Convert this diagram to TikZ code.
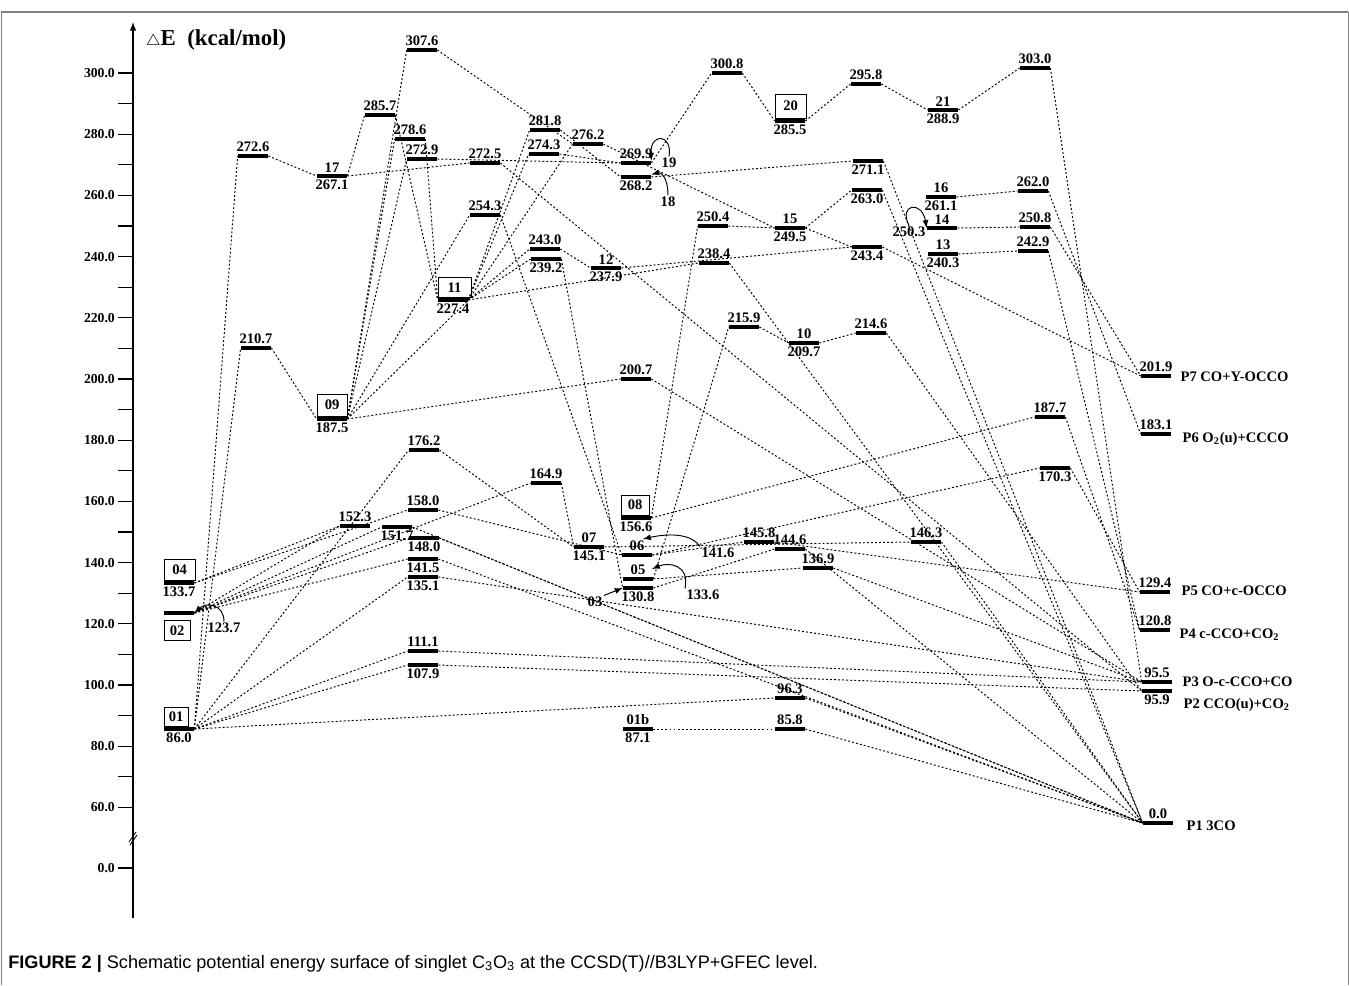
\documentclass[tikz,border=0pt]{standalone}
\usepackage{fontspec}
\setmainfont{Liberation Serif}
\setsansfont{Liberation Sans}
\usetikzlibrary{arrows,positioning}
\tikzset{
  lvl/.style={fill=black, inner sep=0pt, minimum width=0.6cm, minimum height=0.08cm},
  num/.style={font=\fontsize{8.3}{9}\selectfont\bfseries, inner sep=0.7pt},
  tagbox/.style={draw, line width=0.5pt, num, inner sep=1.5pt, minimum height=0.4cm, minimum width=0.56cm, anchor=south west},
  conn/.style={dash pattern=on 1.1pt off 1.2pt, line width=0.55pt},
  note/.style={-latex, line width=0.55pt},
  ticklab/.style={font=\fontsize{7.8}{8}\selectfont\bfseries, inner sep=1.5pt}
}
\begin{document}
\begin{tikzpicture}[x=0.02cm, y=-0.02cm]
\useasboundingbox (0,0) rectangle (1349,986);
\draw[gray, line width=0.6pt] (1,12) -- (1348,12);
\draw[gray, line width=0.5pt] (1,12) -- (1,985) (1348,12) -- (1348,985);

% energy axis
\draw[-latex, line width=0.7pt] (133,918) -- (133,22);
\node[anchor=west, font=\fontsize{13}{14}\selectfont\bfseries] (axlab) at (140,40) {{\fontsize{9}{9}\selectfont$\triangle$}E\ \ (kcal/mol)};
\foreach \e in {60,80,...,300}
    \draw[line width=0.6pt] (118,{73+(300-\e)*3.06}) node[left,ticklab] {\e.0} -- (133,{73+(300-\e)*3.06});
\foreach \e in {70,90,...,290}
    \draw[line width=0.6pt] (118,{73+(300-\e)*3.06}) -- (133,{73+(300-\e)*3.06});
\draw[line width=0.6pt] (118,868) node[left,ticklab] {0.0} -- (133,868);
\draw[line width=0.5pt] (129,842) -- (136,832) (130,845) -- (137,835);

% minima and transition states
\node[lvl, label={[num]below:86.0}] (m01) at (179,729) {};
\node[lvl] (m02) at (179,613) {};
\node[lvl, label={[num]below:133.7}] (m04) at (179,583) {};
\node[lvl, label={[num]above:272.6}] (t2726) at (253,156) {};
\node[lvl, label={[num]above:210.7}] (t2107) at (256,348) {};
\node[lvl, label={[num]above:17}, label={[num]below:267.1}] (m17) at (332,176) {};
\node[lvl, label={[num]below:187.5}] (m09) at (332,419) {};
\node[lvl, label={[num]above:285.7}] (t2857) at (380,115) {};
\node[lvl, label={[num]above:307.6}] (t3076) at (422,50) {};
\node[lvl, label={[num]above:278.6}] (t2786) at (410,139) {};
\node[lvl, label={[num]above:272.9}] (t2729) at (422,159) {};
\node[lvl, label={[num]above:272.5}] (t2725) at (485,163) {};
\node[lvl, label={[num]above:254.3}] (t2543) at (485,215) {};
\node[lvl, label={[num]below:227.4}] (m11) at (453,300) {};
\node[lvl, label={[num]above:176.2}] (t1762) at (424,450) {};
\node[lvl, label={[num]above:152.3}] (t1523) at (355,526) {};
\node[lvl, label={[num]below:151.7}] (t1517) at (397,527) {};
\node[lvl, label={[num]above:158.0}] (t1580) at (423,510) {};
\node[lvl, label={[num]below:148.0}] (t1480) at (424,538) {};
\node[lvl, label={[num]below:141.5}] (t1415) at (423,559) {};
\node[lvl, label={[num]below:135.1}] (t1351) at (423,577) {};
\node[lvl, label={[num]above:111.1}] (t1111) at (423,651) {};
\node[lvl, label={[num]below:107.9}] (t1079) at (423,665) {};
\node[lvl, label={[num]above:281.8}] (t2818) at (545,130) {};
\node[lvl, label={[num]above:274.3}] (t2743) at (544,154) {};
\node[lvl, label={[num]above:276.2}] (t2762) at (588,144) {};
\node[lvl, label={[num]above:243.0}] (t2430) at (545,249) {};
\node[lvl, label={[num]below:239.2}] (t2392) at (546,259) {};
\node[lvl, label={[num]above:12}, label={[num]below:237.9}] (m12) at (606,268) {};
\node[lvl, label={[num]above:164.9}] (t1649) at (546,483) {};
\node[lvl, label={[num]above:07}, label={[num]below:145.1}] (m07) at (589,547) {};
\node[lvl, label={[num]above:269.9}] (m19) at (636,163) {};
\node[lvl, label={[num]below:268.2}] (m18) at (636,177) {};
\node[lvl, label={[num]above:200.7}] (t2007) at (636,379) {};
\node[lvl, label={[num]below:156.6}] (m08) at (636,518) {};
\node[lvl, label={[num]above:06}] (m06) at (637,555) {};
\node[lvl, label={[num]above:05}] (m05) at (638,579) {};
\node[lvl, label={[num]below:130.8}] (m03) at (638,588) {};
\node[lvl, label={[num]above:01b}, label={[num]below:87.1}] (m01b) at (638,729) {};
\node[lvl, label={[num]above:300.8}] (t3008) at (727,73) {};
\node[lvl, label={[num]above:250.4}] (t2504) at (713,226) {};
\node[lvl, label={[num]above:238.4}] (t2384) at (714,263) {};
\node[lvl, label={[num]above:215.9}] (t2159) at (744,327) {};
\node[lvl, label={[num]below:285.5}] (m20) at (790,121) {};
\node[lvl, label={[num]above:15}, label={[num]below:249.5}] (m15) at (790,228) {};
\node[lvl, label={[num]above:10}, label={[num]below:209.7}] (m10) at (804,343) {};
\node[lvl, label={[num]above:145.8}] (t1458) at (759,542) {};
\node[lvl, label={[num]above:144.6}] (t1446) at (790,549) {};
\node[lvl, label={[num]above:136.9}] (t1369) at (818,568) {};
\node[lvl, label={[num]above:96.3}] (t963) at (790,698) {};
\node[lvl, label={[num]above:85.8}] (t858) at (790,729) {};
\node[lvl, label={[num]above:295.8}] (t2958) at (866,84) {};
\node[lvl, label={[num]below:271.1}] (t2711) at (868,161) {};
\node[lvl, label={[num]below:263.0}] (t2630) at (867,190) {};
\node[lvl, label={[num]below:243.4}] (t2434) at (867,247) {};
\node[lvl, label={[num]above:214.6}] (t2146) at (871,333) {};
\node[lvl, label={[num]above:146.3}] (t1463) at (926,542) {};
\node[lvl, label={[num]above:21}, label={[num]below:288.9}] (m21) at (943,110) {};
\node[lvl, label={[num]above:16}, label={[num]below:261.1}] (m16) at (941,197) {};
\node[lvl, label={[num]above:14}] (m14) at (942,228) {};
\node[lvl, label={[num]above:13}, label={[num]below:240.3}] (m13) at (943,254) {};
\node[lvl, label={[num]above:303.0}] (t3030) at (1035,68) {};
\node[lvl, label={[num]above:262.0}] (t2620) at (1033,191) {};
\node[lvl, label={[num]above:250.8}] (t2508) at (1035,227) {};
\node[lvl, label={[num]above:242.9}] (t2429) at (1033,251) {};
\node[lvl, label={[num]above:187.7}] (t1877) at (1050,417) {};
\node[lvl, label={[num]below:170.3}] (t1703) at (1055,468) {};

% products
\node[lvl, label={[num]above:201.9}] (p7) at (1156,376) {};
\node[lvl, label={[num]above:183.1}] (p6) at (1156,434) {};
\node[lvl, label={[num]above:129.4}] (p5) at (1155,592) {};
\node[lvl, label={[num]above:120.8}] (p4) at (1155,630) {};
\node[lvl, label={[num]above:95.5}] (p3) at (1157,682) {};
\node[lvl, label={[num]below:95.9}] (p2) at (1157,691) {};
\node[lvl, label={[num]above:0.0}] (p1) at (1158,823) {};
\node[num, anchor=west] (p7t) at (1179,377) {P7 CO+Y-OCCO};
\node[num, anchor=west] (p6t) at (1181,439) {P6 O\textsubscript{2}(u)+CCCO};
\node[num, anchor=west] (p5t) at (1180,591) {P5 CO+c-OCCO};
\node[num, anchor=west] (p4t) at (1178,635) {P4 c-CCO+CO\textsubscript{2}};
\node[num, anchor=west] (p3t) at (1181,682) {P3 O-c-CCO+CO};
\node[num, anchor=west] (p2t) at (1182,705) {P2 CCO(u)+CO\textsubscript{2}};
\node[num, anchor=west] (p1t) at (1185,826) {P1 3CO};

% boxed labels
\node[tagbox, minimum width=0.48cm, minimum height=0.38cm] (b01) at (m01.north west) {01};
\node[tagbox, minimum width=0.62cm, minimum height=0.42cm] (b04) at (m04.north west) {04};
\node[tagbox, anchor=north west, minimum width=0.52cm] (b02) at ([yshift=-0.1cm]m02.south west) {02};
\node[tagbox, minimum width=0.6cm, minimum height=0.44cm] (b09) at (m09.north west) {09};
\node[tagbox, minimum width=0.66cm] (b11) at (m11.north west) {11};
\node[tagbox, minimum width=0.56cm] (b08) at (m08.north west) {08};
\node[tagbox, minimum width=0.62cm, minimum height=0.48cm] (b20) at (m20.north west) {20};

% pointers
\node[num] (n1237) at (224,628) {123.7};
\node[num] (n19) at (669,163) {19};
\node[num] (n18) at (668,202) {18};
\node[num] (n1416) at (718,553) {141.6};
\node[num] (n1336) at (703,595) {133.6};
\node[num] (n03) at (595,602) {03};
\node[num] (n2503) at (909,232) {250.3};
\coordinate (a06) at (643,539);
\coordinate (a05) at (652,569);
\draw[note] (n1237.north) .. controls (224,604) and (206,602) .. (m02.east);
\draw[note] (n19.north) .. controls (673,134) and (650,132) .. (m19.north east);
\draw[note] (n18.north) .. controls (668,176) and (660,172) .. (m18.north east);
\draw[note] (n1416.north west) .. controls (690,532) and (665,534) .. (a06);
\draw[note] (n1336.north west) .. controls (690,564) and (668,562) .. (a05);
\draw[note] (n03.north east) -- (m03.west);
\draw[note] (n2503.north) .. controls (898,204) and (922,200) .. (m14.west);

% reaction paths
\foreach \a/\b in {m01/t2726, t2726/m17, m01/t2107, t2107/m09, m01/t1762, t1762/m07,
    m01/t1351, m01/t1111, m01/t1079, m01/t963, m04/t1523, m02/t1523, m04/t1580,
    m02/t1517, m02/t1480, m02/t1415, m02/t1649, t1649/m07, t1580/m06,
    t1517/p1, t1480/p1, t1415/p1, t1351/p3, t1111/p3, t1079/p2, t963/p1,
    m17/t2857, t2857/m11, m17/t2725, t2725/p2, m09/t3076, t3076/t2762,
    m09/t2786, t2786/m11, m09/t2729, t2729/m19, m09/t2543, t2543/m06,
    m09/t2007, t2007/p3, t2818/m18, t2743/m19, t2762/m15, t2430/m12,
    t2392/m03, t2384/p1, m12/t2434, m15/t2434, t2434/p7,
    m19/t3008, t3008/m20, m20/t2958, t2958/m21, m21/t3030, t3030/p3,
    m18/t2711, t2711/p1, m15/t2630, t2630/p1, m08/t2504, t2504/m15,
    m05/t2159, t2159/m10, m10/t2146, t2146/p2, m16/t2620, m14/t2508,
    m13/t2429, t2620/p6, t2508/p7, t2429/p4, m08/t1877, t1877/p4,
    m06/t1703, t1703/p5, m06/t1458, t1458/p5, m03/t1446, t1446/p1,
    m07/t1463, t1463/p1, m05/t1369, t1369/p3, m01b/t858, t858/p1}
    \draw[conn] (\a.east) -- (\b.west);
\foreach \b in {t2818, t2743, t2762, t2430, t2392, t2384}
    \draw[conn] (m11.east) -- (\b.west);
\draw[conn] (m09.east) -- (m11.east);

% caption
\node[anchor=base west, font=\sffamily\fontsize{10.3}{12}\selectfont, inner sep=0pt] (cap) at (8,968)
    {\textbf{FIGURE 2 |} Schematic potential energy surface of singlet C\textsubscript{3}O\textsubscript{3} at the CCSD(T)//B3LYP+GFEC level.};
\end{tikzpicture}
\end{document}
